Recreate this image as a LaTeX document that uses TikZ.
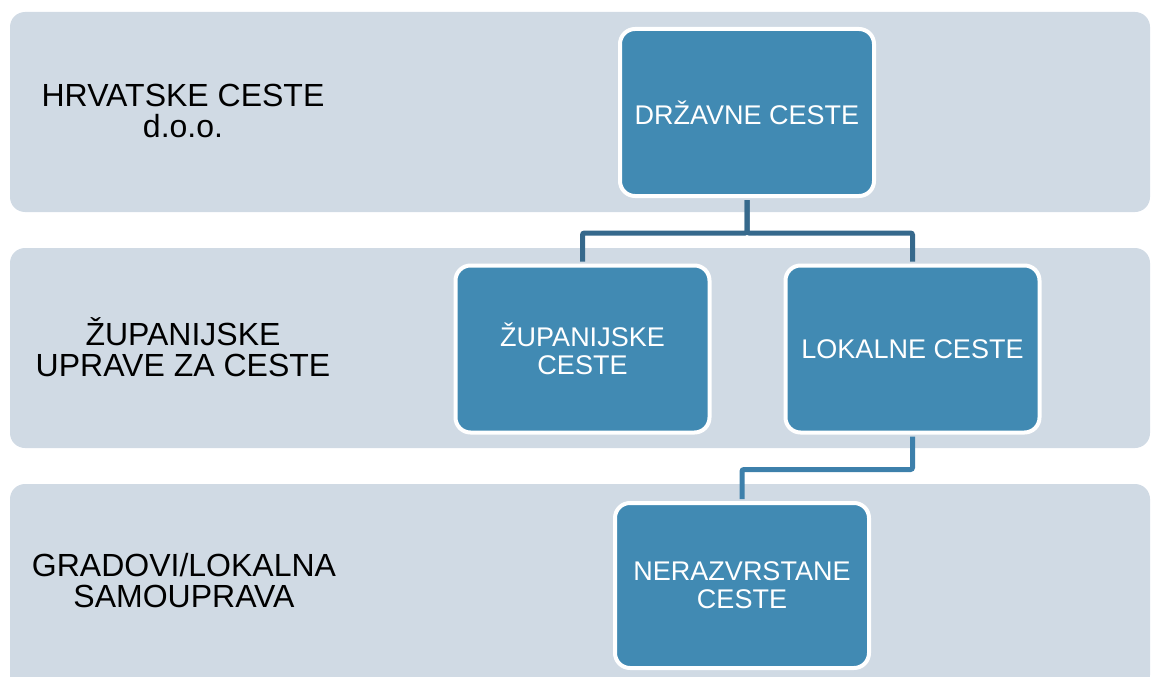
\documentclass[tikz,border=0pt]{standalone}
\usepackage{fontspec}
\setmainfont{Liberation Sans}
\usetikzlibrary{positioning}
\definecolor{bandgray}{HTML}{D0DAE4}
\definecolor{roadblue}{HTML}{418AB3}
\definecolor{linkdark}{HTML}{36698C}
\definecolor{linkblue}{HTML}{3D80AB}

\tikzset{
  band/.style={fill=bandgray,rounded corners=15pt},
  bandlabel/.style={align=center,font=\fontsize{32}{31}\selectfont,text=black},
  road/.style={rectangle,rounded corners=15pt,fill=roadblue,draw=white,line width=4pt,
    minimum width=254pt,minimum height=167pt,align=center,text=white,
    font=\fontsize{27}{28}\selectfont},
  link/.style={line width=5pt,rounded corners=2pt,shorten <=2pt,shorten >=2pt}
}

\begin{document}
\begin{tikzpicture}[x=1pt,y=-1pt]
\useasboundingbox (0,0) rectangle (1151,677);
% bands
\fill[band] (10,12) rectangle (1150,212);
\fill[band] (10,248) rectangle (1150,448);
\fill[band] (10,484) rectangle (1150,690);
% left labels
\node [bandlabel] (hc) at (183,111) {HRVATSKE CESTE\\d.o.o.};
\node [bandlabel] (zu) at (183,347) {ŽUPANIJSKE\\UPRAVE ZA CESTE};
\node [bandlabel] (gr) at (184,581) {GRADOVI/LOKALNA\\SAMOUPRAVA};
% road boxes
\node [road] (drz) at (747,112.5) {DRŽAVNE CESTE};
\node [road] (zup) at (582.5,349) {ŽUPANIJSKE\\CESTE};
\node [road] (lok) at (912.5,349) {LOKALNE CESTE};
\node [road,minimum height=165pt] (ner) at (742,585.5) {NERAZVRSTANE\\CESTE};
% connectors
\draw [link,draw=linkdark] (drz.south) -- ++(0,35) -| (zup.north);
\draw [link,draw=linkdark] (drz.south) -- ++(0,35) -| (lok.north);
\draw [link,draw=linkblue] (lok.south) -- ++(0,35) -| (ner.north);
\end{tikzpicture}
\end{document}
